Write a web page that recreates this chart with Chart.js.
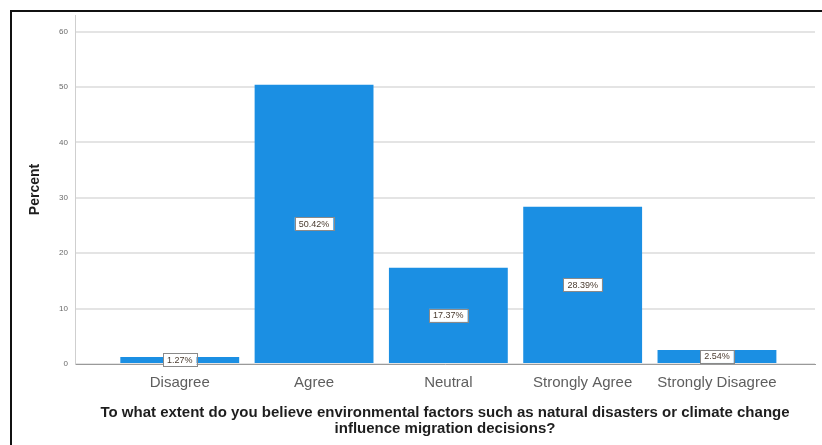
<!DOCTYPE html>
<html>
<head>
<meta charset="utf-8">
<script src="https://cdn.jsdelivr.net/npm/chart.js@4"></script>
<style>
  html, body { margin: 0; padding: 0; background: #fff; }
  #wrap { position: relative; width: 822px; height: 445px; overflow: hidden; }
  #frame {
    position: absolute; left: 10px; top: 10px; width: 830px; height: 450px;
    border-left: 2px solid #111; border-top: 2px solid #111; pointer-events: none;
  }
  canvas { position: absolute; left: 0; top: 0; }
</style>
</head>
<body>
<div id="wrap">
  <canvas id="chart" width="822" height="445"></canvas>
  <div id="frame"></div>
</div>
<script>
const categories = ['Disagree', 'Agree', 'Neutral', 'Strongly Agree', 'Strongly Disagree'];
const percents = [1.27, 50.42, 17.37, 28.39, 2.54];
const yTicks = [0, 10, 20, 30, 40, 50, 60];

const xTitle = [
    'To what extent do you believe environmental factors such as natural disasters or climate change',
    'influence migration decisions?'
];

// boxed percentage label in the middle of every bar
const barLabels = {
    id: 'barLabels',
    afterDatasetsDraw(chart) {
        const ctx = chart.ctx;
        const meta = chart.getDatasetMeta(0);
        ctx.save();
        ctx.font = '9px "Liberation Sans", Arial, sans-serif';
        ctx.textAlign = 'center';
        ctx.textBaseline = 'middle';
        meta.data.forEach((bar, i) => {
            const text = percents[i].toFixed(2) + '%';
            const cx = bar.x;
            const cy = (bar.y + bar.base) / 2;
            const w = ctx.measureText(text).width + 8;
            const h = 13;
            ctx.fillStyle = '#ffffff';
            ctx.fillRect(cx - w / 2, cy - h / 2, w, h);
            ctx.strokeStyle = '#8a8a8a';
            ctx.lineWidth = 1;
            ctx.strokeRect(Math.round(cx - w / 2) + 0.5, Math.round(cy - h / 2) + 0.5, Math.round(w), h);
            ctx.fillStyle = '#4a3c30';
            ctx.fillText(text, cx, cy + 0.5);
        });
        ctx.restore();
    }
};

new Chart(document.getElementById('chart'), {
    type: 'bar',
    data: {
        datasets: [{
            data: percents.map((v, i) => ({ x: i, y: v })),
            backgroundColor: '#1b8fe3',
            borderWidth: 0,
            categoryPercentage: 1,
            barPercentage: 0.885
        }]
    },
    options: {
        responsive: false,
        animation: false,
        layout: { padding: { top: 15, right: 7, bottom: 0, left: 0 } },
        plugins: {
            legend: { display: false },
            tooltip: { enabled: false }
        },
        scales: {
            x: {
                type: 'linear',
                offset: false,
                min: -0.78,
                max: 4.73,
                afterBuildTicks(scale) {
                    scale.ticks = categories.map((c, i) => ({ value: i }));
                },
                afterFit(scale) { scale.height = 81; },
                grid: { display: false, drawTicks: false },
                border: { display: true, color: '#9a9a9a', width: 1 },
                ticks: {
                    autoSkip: false,
                    maxRotation: 0,
                    padding: 10,
                    color: '#5e5e5e',
                    font: { family: '"Liberation Sans", Arial, sans-serif', size: 15 },
                    callback: v => categories[v]
                },
                title: {
                    display: true,
                    text: xTitle,
                    color: '#1e1e1e',
                    padding: { top: 0, bottom: 8 },
                    font: { family: '"Liberation Sans", Arial, sans-serif', size: 15, weight: 'bold', lineHeight: 16 / 15 }
                }
            },
            y: {
                min: 0,
                max: 63,
                afterBuildTicks(scale) {
                    scale.ticks = yTicks.map(v => ({ value: v }));
                },
                afterFit(scale) { scale.width = 75; },
                grid: { color: '#e4e4e4', lineWidth: 2, drawTicks: false },
                border: { display: true, color: '#cfcfcf', width: 1 },
                ticks: {
                    padding: 7,
                    color: '#6a6a6a',
                    font: { family: '"Liberation Sans", Arial, sans-serif', size: 8 }
                },
                title: {
                    display: true,
                    text: 'Percent',
                    color: '#1e1e1e',
                    padding: { top: 27, bottom: 0 },
                    font: { family: '"Liberation Sans", Arial, sans-serif', size: 14, weight: 'bold' }
                }
            }
        }
    },
    plugins: [barLabels]
});
</script>
</body>
</html>
